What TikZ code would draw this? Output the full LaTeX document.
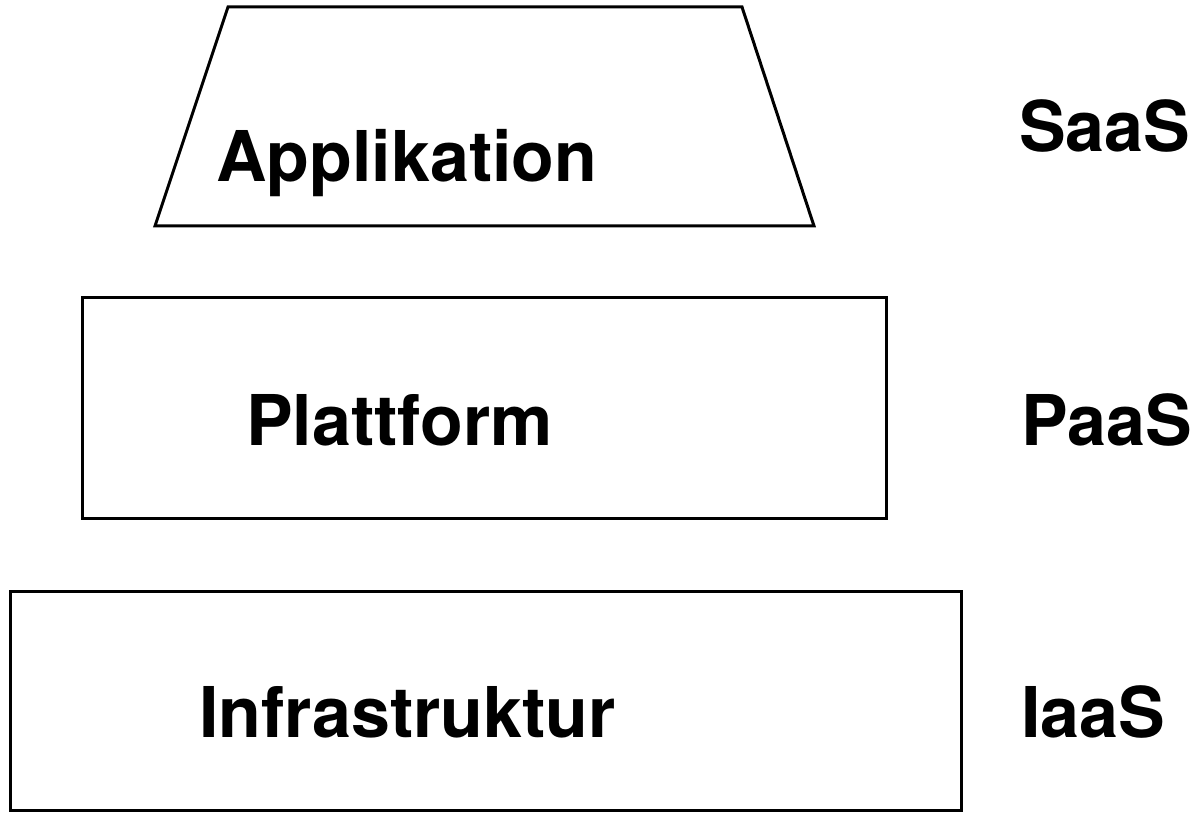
\documentclass[tikz,border=0pt]{standalone}
\usepackage{fontspec}
\setmainfont{TeX Gyre Heros}
\begin{document}
\begin{tikzpicture}[x=1pt,y=-1pt,
  layer/.style={draw=black,line width=3pt,line join=miter},
  lbl/.style={inner sep=0pt,anchor=base west,font=\fontsize{70}{80}\selectfont\bfseries}]
\useasboundingbox (0,0) rectangle (1197,818);
\draw[layer] (228,7) -- (742,7) -- (814,226) -- (155,226) -- cycle;
\draw[layer] (82,298) rectangle (886,518);
\draw[layer] (10,591) rectangle (961,810);
\node[lbl] (app) at (216,182) {Applikation};
\node[lbl] (plat) at (246,445) {Plattform};
\node[lbl] (infra) at (199,737) {Infrastruktur};
\node[lbl] (saas) at (1019,152) {SaaS};
\node[lbl] (paas) at (1021,445) {PaaS};
\node[lbl] (iaas) at (1021,737) {IaaS};
\end{tikzpicture}
\end{document}
